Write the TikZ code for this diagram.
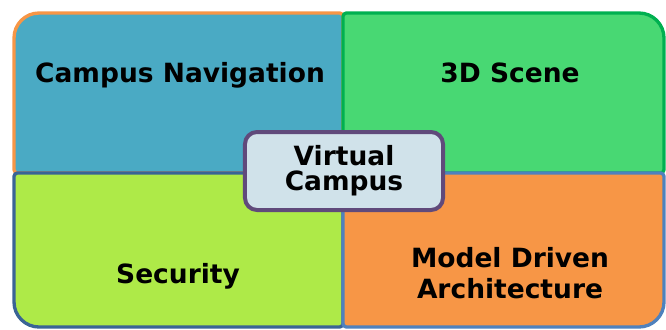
\documentclass[tikz,border=0pt]{standalone}
\usepackage{xcolor}
\usepackage{fontspec}
\setmainfont{DejaVu Sans}

\definecolor{navfill}{HTML}{4AAAC4}
\definecolor{navline}{HTML}{F79646}
\definecolor{scenefill}{HTML}{48D873}
\definecolor{sceneline}{HTML}{00B050}
\definecolor{secfill}{HTML}{AEEA48}
\definecolor{secline}{HTML}{3A6495}
\definecolor{mdafill}{HTML}{F79646}
\definecolor{mdaline}{HTML}{4F81BD}
\definecolor{hubfill}{HTML}{D0E2EA}
\definecolor{hubline}{HTML}{604A7B}

\begin{document}
\begin{tikzpicture}[
      x=0.03cm, y=-0.03cm,
      line join=round,
      every node/.style={font=\fontsize{22.6}{26.4}\selectfont\bfseries,
                         inner sep=0pt, align=center},
      quad/.style={line width=1mm, rounded corners=1mm},
      hub/.style={draw=hubline, fill=hubfill, line width=1.2mm,
                  rounded corners=3.6mm, minimum width=5.94cm,
                  minimum height=2.34cm,
                  font=\fontsize{22.6}{21.5}\selectfont\bfseries},
    ]
    \useasboundingbox (0,0) rectangle (666,329);
    %% Four tiles; only the outer corner of each gets the big radius.
    \draw[quad, draw=navline, fill=navfill]
         (14,100) -- (14,173) -- (343,173) -- (343,13) -- (200,13)
         [rounded corners=7.5mm] -- (14,13) -- cycle;
    \draw[quad, draw=sceneline, fill=scenefill]
         (343,100) -- (343,173) -- (664,173) -- (664,100)
         [rounded corners=7.5mm] -- (664,13) -- (500,13)
         [rounded corners=1mm] -- (343,13) -- cycle;
    \draw[quad, draw=secline, fill=secfill]
         (14,250) -- (14,173) -- (343,173) -- (343,327) -- (200,327)
         [rounded corners=7.5mm] -- (14,327) -- cycle;
    \draw[quad, draw=mdaline, fill=mdafill]
         (343,250) -- (343,173) -- (664,173) -- (664,250)
         [rounded corners=7.5mm] -- (664,327) -- (500,327)
         [rounded corners=1mm] -- (343,327) -- cycle;
    %% Tile labels.
    \node[anchor=base] (nav)      at (180,82)  {Campus Navigation};
    \node[anchor=base] (scene)    at (510,82)  {3D Scene};
    \node[anchor=base] (security) at (178,283) {Security};
    \node              (mda)      at (510,273) {Model Driven\\Architecture};
    %% Hub box over the meeting point of the tiles.
    \node[hub] (campus) at (344,171) {Virtual\\Campus};
  \end{tikzpicture}
\end{document}
